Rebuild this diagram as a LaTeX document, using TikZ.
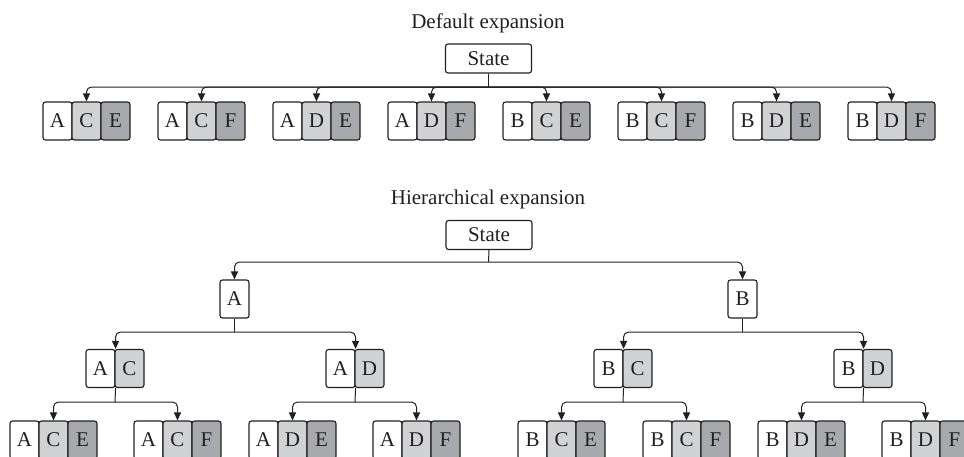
\documentclass[tikz,border=0pt]{standalone}
\usepackage{fontspec}
\setmainfont{Liberation Serif}
\usetikzlibrary{arrows.meta}
\definecolor{lgray}{HTML}{D1D2D4}
\definecolor{dgray}{HTML}{A7A9AC}
\definecolor{ink}{HTML}{231F20}
\tikzset{
  cellbase/.style={draw=ink, line width=1.1pt, rounded corners=2.5pt, minimum width=29pt, minimum height=38pt, inner sep=0pt, text=ink, font=\fontsize{21}{24}\selectfont},
  cellw/.style={cellbase, fill=white},
  celll/.style={cellbase, fill=lgray},
  celld/.style={cellbase, fill=dgray},
  statebox/.style={draw=ink, line width=1.1pt, rounded corners=2.5pt, minimum width=86pt, minimum height=29pt, inner sep=0pt, fill=white, text=ink, font=\fontsize{21}{24}\selectfont},
  title/.style={anchor=base, text=ink, font=\fontsize{21}{24}\selectfont},
  stem/.style={draw=ink, line width=1pt},
  conn/.style={draw=ink, line width=1pt, rounded corners=5pt, -{Triangle[length=8pt,width=7pt]}}
}
\newcommand{\trip}[6]{%
  \node[cellw] (#1a) at (#2+14.5,#3) {#4};
  \node[celll] (#1b) at (#2+43.5,#3) {#5};
  \node[celld] (#1c) at (#2+72.5,#3) {#6};}
\begin{document}
\begin{tikzpicture}[x=1pt,y=-1pt]
\useasboundingbox (0,0) rectangle (964,456);
\clip (0,0) rectangle (964,456);
% ---------- Default expansion ----------
\node[title] (t1) at (488,28) {Default expansion};
\node[statebox] (S1) at (488.5,58.5) {State};
\coordinate (h1) at (488.5,87);
\trip{d1}{43}{121}{A}{C}{E}
\trip{d2}{158}{121}{A}{C}{F}
\trip{d3}{273}{121}{A}{D}{E}
\trip{d4}{388}{121}{A}{D}{F}
\trip{d5}{503}{121}{B}{C}{E}
\trip{d6}{618}{121}{B}{C}{F}
\trip{d7}{733}{121}{B}{D}{E}
\trip{d8}{848}{121}{B}{D}{F}
\draw[stem] (S1.south) -- (h1);
\foreach \i in {1,...,8} {\draw[conn] (h1) -| (d\i b.north);}
% ---------- Hierarchical expansion ----------
\node[title] (t2) at (488,204) {Hierarchical expansion};
\node[statebox] (S2) at (489,235) {State};
\coordinate (h2) at (488.5,262);
\node[cellw] (A) at (234.5,299) {A};
\node[cellw] (B) at (742.5,299) {B};
\draw[stem] (S2.south) -- (h2);
\draw[conn] (h2) -| (A.north);
\draw[conn] (h2) -| (B.north);
% level 2
\node[cellw] (ACa) at (100.5,368.5) {A};
\node[celll] (ACb) at (129.5,368.5) {C};
\node[cellw] (ADa) at (340.5,368.5) {A};
\node[celll] (ADb) at (369.5,368.5) {D};
\node[cellw] (BCa) at (608.5,368.5) {B};
\node[celll] (BCb) at (637.5,368.5) {C};
\node[cellw] (BDa) at (848.5,368.5) {B};
\node[celll] (BDb) at (877.5,368.5) {D};
\coordinate (hA) at (234.5,332);
\coordinate (hB) at (742.5,332);
\draw[stem] (A.south) -- (hA);
\draw[stem] (B.south) -- (hB);
\draw[conn] (hA) -| (ACa.north east);
\draw[conn] (hA) -| (ADa.north east);
\draw[conn] (hB) -| (BCa.north east);
\draw[conn] (hB) -| (BDa.north east);
% level 3
\trip{ACE}{10}{440}{A}{C}{E}
\trip{ACF}{134}{440}{A}{C}{F}
\trip{ADE}{249}{440}{A}{D}{E}
\trip{ADF}{373}{440}{A}{D}{F}
\trip{BCE}{518}{440}{B}{C}{E}
\trip{BCF}{643}{440}{B}{C}{F}
\trip{BDE}{758}{440}{B}{D}{E}
\trip{BDF}{882}{440}{B}{D}{F}
\coordinate (hAC) at (115,402);
\coordinate (hAD) at (355,402);
\coordinate (hBC) at (623,402);
\coordinate (hBD) at (863,402);
\draw[stem] (ACa.south east) -- (hAC);
\draw[stem] (ADa.south east) -- (hAD);
\draw[stem] (BCa.south east) -- (hBC);
\draw[stem] (BDa.south east) -- (hBD);
\draw[conn] (hAC) -| (ACEb.north);
\draw[conn] (hAC) -| (ACFb.north);
\draw[conn] (hAD) -| (ADEb.north);
\draw[conn] (hAD) -| (ADFb.north);
\draw[conn] (hBC) -| (BCEb.north);
\draw[conn] (hBC) -| (BCFb.north);
\draw[conn] (hBD) -| (BDEb.north);
\draw[conn] (hBD) -| (BDFb.north);
\end{tikzpicture}
\end{document}
